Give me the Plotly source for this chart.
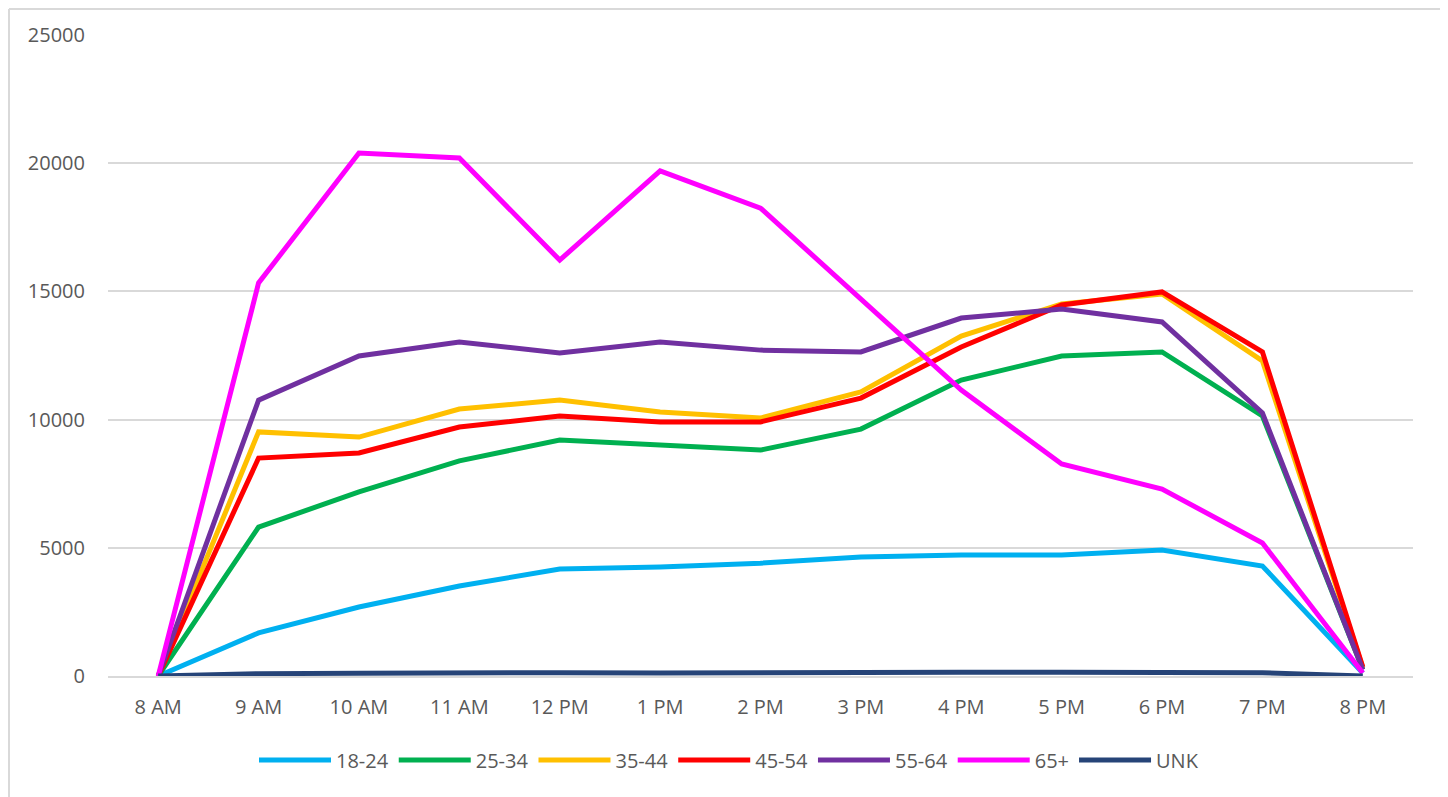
import plotly.graph_objects as go

hours = ["8 AM", "9 AM", "10 AM", "11 AM", "12 PM", "1 PM", "2 PM", "3 PM",
         "4 PM", "5 PM", "6 PM", "7 PM", "8 PM"]

age_18_24 = [0, 1680, 2690, 3510, 4170, 4250, 4400, 4640, 4720, 4720, 4910, 4290, 120]
age_25_34 = [0, 5810, 7180, 8390, 9200, 9010, 8810, 9630, 11540, 12480, 12640, 10140, 250]
age_35_44 = [0, 9520, 9320, 10410, 10760, 10300, 10060, 11080, 13260, 14510, 14900, 12290, 320]
age_45_54 = [0, 8500, 8700, 9710, 10140, 9910, 9910, 10840, 12830, 14470, 14980, 12640, 350]
age_55_64 = [0, 10760, 12480, 13030, 12600, 13030, 12710, 12640, 13960, 14310, 13810, 10260, 250]
age_65p = [0, 15330, 20400, 20200, 16220, 19700, 18250, 14700, 11150, 8270, 7290, 5190, 120]
age_unk = [0, 90, 110, 130, 130, 120, 140, 120, 150, 150, 140, 130, 0]

series = [
    ("18-24", age_18_24, "#00B0F0"),
    ("25-34", age_25_34, "#00B050"),
    ("35-44", age_35_44, "#FFC000"),
    ("45-54", age_45_54, "#FF0000"),
    ("55-64", age_55_64, "#7030A0"),
    ("65+", age_65p, "#FF00FF"),
    ("UNK", age_unk, "#264478"),
]

fig = go.Figure()
for name, vals, color in series:
    fig.add_trace(go.Scatter(
        x=hours, y=vals, name=name, mode="lines",
        line=dict(color=color, width=5),
    ))

# page body has an 8px margin, so the figure starts at page (8, 8)
OFF = 8
W, H = 1448 - OFF, 797 - OFF
L, R, T, B = 108 - OFF, 35, 35 - OFF, 797 - 676
pw, ph = W - L - R, H - T - B
base_y = H - B  # figure pixel of y=0

def px_x(fx):
    return (fx - L) / pw

def px_y(fy):
    return (base_y - fy) / ph

border = dict(color="#D9D9D9", width=2)
xl, xr, yt, yb = px_x(1), px_x(1443 - OFF), px_y(1), px_y(H + 5)

fig.update_layout(
    width=W, height=H,
    margin=dict(l=L, r=R, t=T, b=B),
    paper_bgcolor="white", plot_bgcolor="white",
    font=dict(family="Open Sans, Liberation Sans, sans-serif", size=20, color="#595959"),
    showlegend=True,
    legend=dict(orientation="h", x=px_x(729 - OFF), xanchor="center",
                y=px_y(760 - OFF), yanchor="middle",
                font=dict(size=20, color="#595959"),
                itemwidth=72, tracegroupgap=0),
    xaxis=dict(type="category", range=[-0.5, 12.5], showgrid=False,
               showline=True, linecolor="#D9D9D9", linewidth=1.5,
               ticks="", ticklabelstandoff=12,
               tickfont=dict(size=20, color="#595959"),
               zeroline=False),
    yaxis=dict(range=[0, 25000], dtick=5000, showgrid=True, gridcolor="#D9D9D9",
               gridwidth=1.5, showline=False, zeroline=False, ticks="",
               tickformat="d", ticklabelstandoff=22,
               tickfont=dict(size=20, color="#595959")),
    shapes=[
        dict(type="line", xref="paper", yref="paper", x0=xl, x1=xl, y0=yb, y1=yt,
             line=border, layer="below"),
        dict(type="line", xref="paper", yref="paper", x0=xr, x1=xr, y0=yb, y1=yt,
             line=border, layer="below"),
        dict(type="line", xref="paper", yref="paper", x0=xl, x1=xr, y0=yt, y1=yt,
             line=border, layer="below"),
    ],
)

fig.write_html("out.html")
